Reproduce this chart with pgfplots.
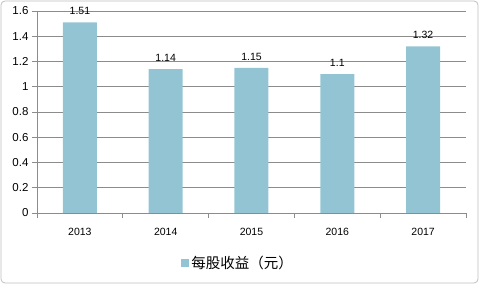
\documentclass[border=0pt]{standalone}
\usepackage{fontspec}
\setmainfont{Liberation Sans}
\newfontfamily\cjk{Noto Sans CJK SC}
\usepackage{pgfplots}
\pgfplotsset{compat=1.18}
\definecolor{barblue}{HTML}{93C4D4}
\definecolor{gridgray}{HTML}{8C8C8C}
\definecolor{framegray}{HTML}{BFBFBF}
\begin{document}
\begin{tikzpicture}[x=1pt,y=1pt]
\begin{axis}[
  at={(0pt,0pt)}, anchor=south west,
  scale only axis, width=429pt, height=202pt,
  xmin=-0.5, xmax=4.5, ymin=0, ymax=1.6,
  ytick={0,0.2,...,1.6},
  yticklabels={0,0.2,0.4,0.6,0.8,1,1.2,1.4,1.6},
  xtick={0,1,2,3,4},
  xticklabels={2013,2014,2015,2016,2017},
  minor xtick={-0.5,0.5,1.5,2.5,3.5,4.5},
  major x tick style={draw=none},
  minor tick length=5pt,
  major tick length=5pt,
  tick align=outside,
  tick style={gridgray, line width=0.8pt},
  axis x line*=bottom, axis y line*=left,
  axis line style={gridgray, line width=0.8pt, -},
  ymajorgrids, grid style={gridgray, line width=0.8pt},
  xticklabel style={font=\fontsize{10.5}{12}\selectfont, yshift=-7pt},
  yticklabel style={font=\fontsize{11.5}{13}\selectfont},
  /pgf/number format/assume math mode=true,
  ybar, bar width=34pt,
  nodes near coords,
  nodes near coords style={font=\fontsize{10.5}{12}\selectfont, text=black, yshift=4pt},
  point meta=explicit symbolic,
  legend style={at={(0.469,-0.25)}, anchor=center, draw=none, fill=none,
    font=\cjk\fontsize{14.5}{16}\selectfont, legend cell align=left},
  legend image code/.code={\fill[barblue] (0pt,-4pt) rectangle (8pt,4pt);},
]
\addplot[fill=barblue, draw=none] coordinates {
  (0,1.51) [1.51]
  (1,1.14) [1.14]
  (2,1.15) [1.15]
  (3,1.10) [1.1]
  (4,1.32) [1.32]
};
\addlegendentry{每股收益（元）}
\end{axis}
\draw[framegray, rounded corners=4pt, line width=0.8pt] (-36pt,-70pt) rectangle (441pt,212pt);
\pgfresetboundingbox
\path (-37pt,-75pt) rectangle (443pt,213pt);
\end{tikzpicture}
\end{document}
